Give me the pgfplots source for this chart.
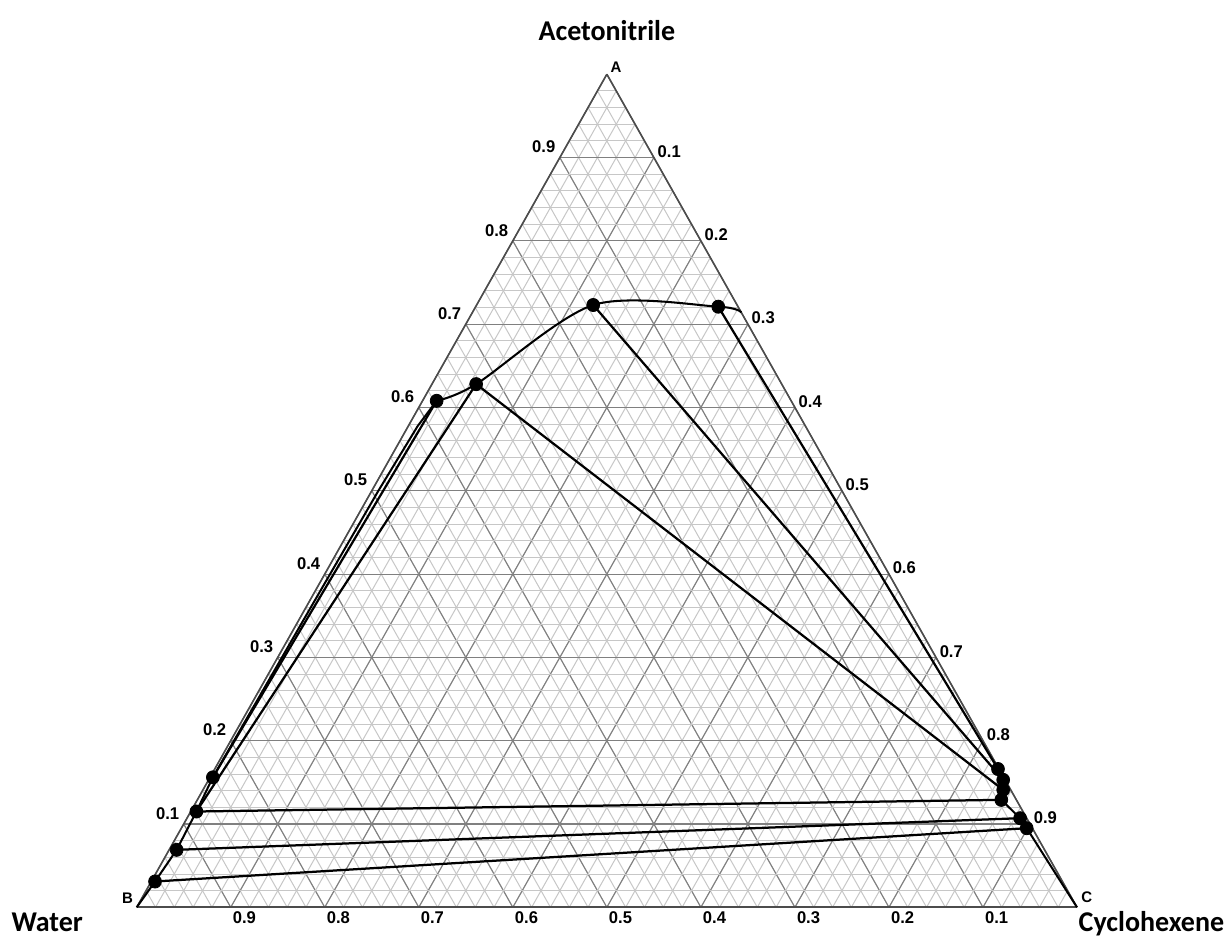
\documentclass[border=0pt]{standalone}
\usepackage{pgfplots}
\pgfplotsset{compat=1.18}
\usepgfplotslibrary{ternary}
\usepackage{fontspec}
\setmainfont{Carlito}
\newfontfamily\tickfont{Liberation Sans}
\tikzset{
  tl/.style={font=\tickfont\bfseries\fontsize{8.3}{9}\selectfont, inner sep=0pt},
  cl/.style={font=\tickfont\bfseries\fontsize{7.5}{8}\selectfont, inner sep=0pt},
  bl/.style={font=\bfseries\fontsize{14}{16}\selectfont, inner sep=0pt},
}
\begin{document}
\scalebox{1}[1.023]{%
\begin{tikzpicture}
\begin{ternaryaxis}[
  scale only axis, width=470.15pt,
  clip=false,
  xmin=0,xmax=1,ymin=0,ymax=1,zmin=0,zmax=1,
  xtick={0,0.1,...,1.01}, ytick={0,0.1,...,1.01}, ztick={0,0.1,...,1.01},
  minor xtick={0,0.02,...,1.001}, minor ytick={0,0.02,...,1.001}, minor ztick={0,0.02,...,1.001},
  xticklabels={}, yticklabels={}, zticklabels={},
  major tick length=0pt, minor tick length=0pt,
  grid=both,
  major grid style={draw=black!50, line width=0.55pt},
  minor grid style={draw=black!22, line width=0.5pt},
  axis line style={draw=black!70, line width=0.8pt},
]
\coordinate (Ac) at (axis cs:1,0,0);
\coordinate (Bc) at (axis cs:0,1,0);
\coordinate (Cc) at (axis cs:0,0,1);
% left binodal (water-rich side) and top
\addplot3[black, line width=1pt, mark=none] coordinates {
 (0,1,0) (0.031,0.965,0.004) (0.069,0.923,0.008) (0.115,0.879,0.006) (0.156,0.841,0.003)
 (0.35,0.645,0.005) (0.50,0.493,0.007) (0.578,0.412,0.010) (0.608,0.377,0.015)
};
\addplot3[black, line width=1pt, mark=none, smooth, tension=0.5] coordinates {
 (0.608,0.377,0.015) (0.628,0.325,0.047) (0.723,0.153,0.124) (0.721,0.021,0.258) (0.714,0,0.286)
};
% right binodal
\addplot3[black, line width=1pt, mark=none] coordinates {
 (0.166,0.001,0.833) (0.153,0.002,0.845) (0.141,0.008,0.851) (0.129,0.016,0.855)
 (0.107,0.007,0.886) (0.095,0.006,0.899) (0,0,1)
};
% tie lines
\addplot3[black, line width=1.1pt] coordinates {(0.721,0.021,0.258) (0.166,0.001,0.833)};
\addplot3[black, line width=1.1pt] coordinates {(0.723,0.153,0.124) (0.153,0.002,0.845)};
\addplot3[black, line width=1.1pt] coordinates {(0.628,0.325,0.047) (0.141,0.008,0.851)};
\addplot3[black, line width=1.1pt] coordinates {(0.115,0.879,0.006) (0.129,0.016,0.855)};
\addplot3[black, line width=1.1pt] coordinates {(0.069,0.923,0.008) (0.107,0.007,0.886)};
\addplot3[black, line width=1.1pt] coordinates {(0.031,0.965,0.004) (0.095,0.006,0.899)};
\addplot3[black, line width=1.1pt] coordinates {(0.608,0.377,0.015) (0.156,0.841,0.003)};
\addplot3[black, line width=1.1pt] coordinates {(0.628,0.325,0.047) (0.115,0.879,0.006)};
% points
\addplot3[only marks, mark=*, mark size=3.2pt, black] coordinates {
 (0.723,0.153,0.124) (0.721,0.021,0.258) (0.628,0.325,0.047) (0.608,0.377,0.015)
 (0.156,0.841,0.003) (0.115,0.879,0.006) (0.069,0.923,0.008) (0.031,0.965,0.004)
 (0.166,0.001,0.833) (0.153,0.002,0.845) (0.141,0.008,0.851) (0.129,0.016,0.855)
 (0.107,0.007,0.886) (0.095,0.006,0.899)
};
% tick labels: left edge (A)
\node[tl, anchor=south east, xshift=-2.1pt, yshift=2.1pt] at (axis cs:0.9,0.1,0) {0.9};
\node[tl, anchor=south east, xshift=-2.1pt, yshift=2.1pt] at (axis cs:0.8,0.2,0) {0.8};
\node[tl, anchor=south east, xshift=-2.1pt, yshift=2.1pt] at (axis cs:0.7,0.3,0) {0.7};
\node[tl, anchor=south east, xshift=-2.1pt, yshift=2.1pt] at (axis cs:0.6,0.4,0) {0.6};
\node[tl, anchor=south east, xshift=-2.1pt, yshift=2.1pt] at (axis cs:0.5,0.5,0) {0.5};
\node[tl, anchor=south east, xshift=-2.1pt, yshift=2.1pt] at (axis cs:0.4,0.6,0) {0.4};
\node[tl, anchor=south east, xshift=-2.1pt, yshift=2.1pt] at (axis cs:0.3,0.7,0) {0.3};
\node[tl, anchor=south east, xshift=-2.1pt, yshift=2.1pt] at (axis cs:0.2,0.8,0) {0.2};
\node[tl, anchor=south east, xshift=-2.1pt, yshift=2.1pt] at (axis cs:0.1,0.9,0) {0.1};
% right edge (C)
\node[tl, anchor=south west, xshift=1.7pt, yshift=-0.2pt] at (axis cs:0.9,0,0.1) {0.1};
\node[tl, anchor=south west, xshift=1.7pt, yshift=-0.2pt] at (axis cs:0.8,0,0.2) {0.2};
\node[tl, anchor=south west, xshift=1.7pt, yshift=-0.2pt] at (axis cs:0.7,0,0.3) {0.3};
\node[tl, anchor=south west, xshift=1.7pt, yshift=-0.2pt] at (axis cs:0.6,0,0.4) {0.4};
\node[tl, anchor=south west, xshift=1.7pt, yshift=-0.2pt] at (axis cs:0.5,0,0.5) {0.5};
\node[tl, anchor=south west, xshift=1.7pt, yshift=-0.2pt] at (axis cs:0.4,0,0.6) {0.6};
\node[tl, anchor=south west, xshift=1.7pt, yshift=-0.2pt] at (axis cs:0.3,0,0.7) {0.7};
\node[tl, anchor=south west, xshift=1.7pt, yshift=-0.2pt] at (axis cs:0.2,0,0.8) {0.8};
\node[tl, anchor=south west, xshift=1.7pt, yshift=-0.2pt] at (axis cs:0.1,0,0.9) {0.9};
% bottom edge (B)
\node[tl, anchor=north west, xshift=0.85pt, yshift=-2.1pt] at (axis cs:0,0.9,0.1) {0.9};
\node[tl, anchor=north west, xshift=0.85pt, yshift=-2.1pt] at (axis cs:0,0.8,0.2) {0.8};
\node[tl, anchor=north west, xshift=0.85pt, yshift=-2.1pt] at (axis cs:0,0.7,0.3) {0.7};
\node[tl, anchor=north west, xshift=0.85pt, yshift=-2.1pt] at (axis cs:0,0.6,0.4) {0.6};
\node[tl, anchor=north west, xshift=0.85pt, yshift=-2.1pt] at (axis cs:0,0.5,0.5) {0.5};
\node[tl, anchor=north west, xshift=0.85pt, yshift=-2.1pt] at (axis cs:0,0.4,0.6) {0.4};
\node[tl, anchor=north west, xshift=0.85pt, yshift=-2.1pt] at (axis cs:0,0.3,0.7) {0.3};
\node[tl, anchor=north west, xshift=0.85pt, yshift=-2.1pt] at (axis cs:0,0.2,0.8) {0.2};
\node[tl, anchor=north west, xshift=0.85pt, yshift=-2.1pt] at (axis cs:0,0.1,0.9) {0.1};
\end{ternaryaxis}
\node[cl] at ([shift={(4.65pt,3.42pt)}]Ac) {A};
\node[cl] at ([shift={(-4.6pt,4.3pt)}]Bc) {B};
\node[cl] at ([shift={(4.85pt,5.18pt)}]Cc) {C};
\node[bl, anchor=base] at ([shift={(0pt,16.6pt)}]Ac) {Acetonitrile};
\node[bl, anchor=base east] at ([shift={(-26.7pt,-11.6pt)}]Bc) {Water};
\node[bl, anchor=base west] at ([shift={(0.65pt,-11.8pt)}]Cc) {Cyclohexene};
\pgfresetboundingbox
\path[use as bounding box] ([shift={(-68.35pt,-15pt)}]Bc) rectangle ++(615pt,458.46pt);
\end{tikzpicture}}
\end{document}
